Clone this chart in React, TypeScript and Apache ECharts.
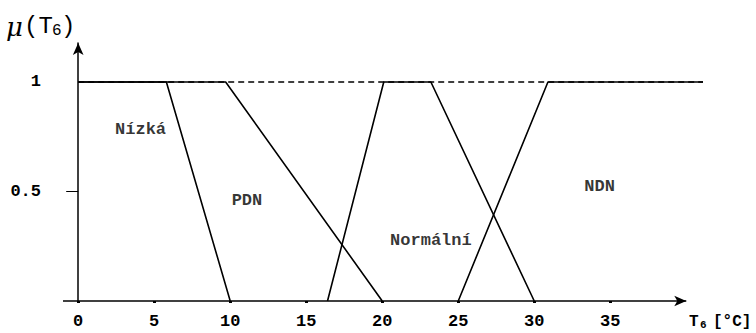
import React, { useEffect, useRef } from "react";
import * as echarts from "echarts";

const xTicks = [0, 5, 10, 15, 20, 25, 30, 35];
const yTickLabels = [0.5, 1];
const xAxisLineEnds: [number, number][] = [[-1, 0], [40, 0]];

const nizka: [number, number][] = [[0, 1], [5.8, 1], [10, 0]];
const pdn: [number, number][] = [[0, 1], [9.7, 1], [20, 0]];
const normalni: [number, number][] = [[16.4, 0], [20.1, 1], [23.2, 1], [30, 0]];
const ndn: [number, number][] = [[25, 0], [30.9, 1], [41.1, 1]];
const dashedTop: [number, number][] = [[0, 1], [41.1, 1]];

const setNames = ["Nízká", "PDN", "Normální", "NDN"];
const setLabelPos: [number, number][] = [[4.1, 0.785], [11.1, 0.457], [23.2, 0.274], [34.3, 0.525]];

const FONT = "Liberation Mono";

export default function App() {
  const ref = useRef<HTMLDivElement>(null);
  useEffect(() => {
    if (!ref.current) return;
    const chart = echarts.init(ref.current, null, { renderer: "svg" });
    const lineSeries = (data: [number, number][], dashed = false) => ({
      type: "line",
      data,
      symbol: "none",
      silent: true,
      lineStyle: { color: "#000", width: dashed ? 1.5 : 1.6, type: dashed ? [6, 4] : "solid" },
    });
    const t = (text: string, x: number, y: number, size: number, family: string, weight = "normal", fstyle = "normal") => ({
      type: "text",
      x,
      y,
      style: { text, fontSize: size, fontFamily: family, fontWeight: weight, fontStyle: fstyle, fill: "#000" },
    });
    chart.setOption({
      animation: false,
      backgroundColor: "#fff",
      grid: { left: 63, right: 53, top: 43, bottom: 32 },
      xAxis: {
        type: "value",
        min: -1,
        max: 41.1,
        splitLine: { show: false },
        axisLine: { show: false },
        axisTick: { show: true, customValues: xTicks, length: 2, lineStyle: { color: "#000", width: 3 } },
        axisLabel: {
          customValues: xTicks,
          margin: 12,
          color: "#000",
          fontFamily: FONT,
          fontWeight: "bold",
          fontSize: 17,
        },
      },
      yAxis: {
        type: "value",
        min: 0,
        max: 1.178,
        splitLine: { show: false },
        axisLine: { show: true, onZero: true, lineStyle: { color: "#000", width: 1.5 }, symbol: ["none", "arrow"], symbolSize: [8, 12] },
        axisTick: { show: true, customValues: [0.5], length: 12, lineStyle: { color: "#000", width: 1 } },
        axisLabel: {
          customValues: yTickLabels,
          margin: 22,
          color: "#000",
          fontFamily: FONT,
          fontWeight: "bold",
          fontSize: 17,
          formatter: (v: number) => String(v),
        },
      },
      graphic: [
        {
          type: "group",
          left: 6,
          top: 14,
          children: [
            t("μ", 0, 0, 26, "DejaVu Serif", "normal", "italic"),
            t("(T", 18, 0, 24, FONT),
            t("6", 46, 9, 16, FONT),
            t(")", 55, 0, 24, FONT),
          ],
        },
        {
          type: "group",
          left: 689,
          top: 314,
          children: [
            t("T", 0, 0, 16, FONT, "bold"),
            t("6", 11, 5, 11, FONT, "bold"),
            t("[°C]", 24, 0, 16, FONT, "bold"),
          ],
        },
      ],
      series: [
        {
          type: "line",
          data: [],
          silent: true,
          markLine: {
            silent: true,
            symbol: ["none", "arrow"],
            symbolSize: [8, 12],
            label: { show: false },
            lineStyle: { color: "#000", width: 1.5, type: "solid" },
            data: [[{ coord: xAxisLineEnds[0] }, { coord: xAxisLineEnds[1] }]],
          },
        },
        lineSeries(dashedTop, true),
        lineSeries(nizka),
        lineSeries(pdn),
        lineSeries(normalni),
        lineSeries(ndn),
        {
          type: "scatter",
          silent: true,
          symbolSize: 1,
          itemStyle: { color: "rgba(0,0,0,0)" },
          data: setLabelPos.map((p, i) => ({ value: p, name: setNames[i] })),
          label: {
            show: true,
            position: "inside",
            formatter: (p: any) => p.name,
            color: "#000",
            fontFamily: FONT,
            fontWeight: "bold",
            fontSize: 17,
          },
        },
      ],
    });
    return () => chart.dispose();
  }, []);
  return <div ref={ref} style={{ position: "fixed", left: 0, top: 0, width: 756, height: 333 }} />;
}
